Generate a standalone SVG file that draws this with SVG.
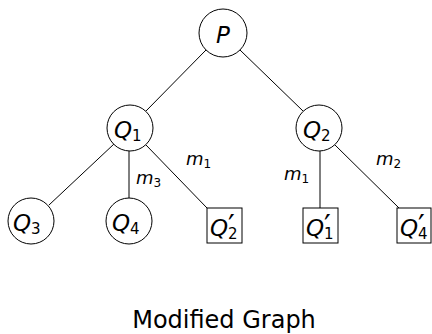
<svg xmlns="http://www.w3.org/2000/svg" width="432" height="334" viewBox="0 0 432 334">
<style>
.n{fill:#fff;stroke:#000;stroke-width:1}
.e{stroke:#000;stroke-width:1;fill:none}
.q{font-family:"DejaVu Sans",sans-serif;font-style:italic;font-size:23px;fill:#000}
.s{font-style:normal;font-size:15px}
.p{font-style:normal;font-size:30px}
.m{font-family:"DejaVu Sans",sans-serif;font-style:italic;font-size:18px;fill:#000}
.ms{font-style:normal;font-size:12px}
.t{font-family:"DejaVu Sans",sans-serif;font-size:24px;fill:#000}
</style>
<g id="edges">
<line class="e" x1="206" y1="50" x2="146" y2="111"/>
<line class="e" x1="240" y1="50" x2="303" y2="111"/>
<line class="e" x1="114" y1="144" x2="49" y2="205"/>
<line class="e" x1="129" y1="151" x2="129" y2="198"/>
<line class="e" x1="146" y1="145" x2="207" y2="208"/>
<line class="e" x1="320" y1="151" x2="320" y2="208"/>
<line class="e" x1="335" y1="145" x2="399" y2="208"/>
</g>
<g id="P"><circle class="n" cx="223" cy="33" r="24"/><text class="q" x="216" y="43">P</text></g>
<g id="Q1"><circle class="n" cx="130" cy="128" r="23"/><text class="q" x="114" y="138">Q<tspan class="s" dy="3">1</tspan></text></g>
<g id="Q2"><circle class="n" cx="319" cy="128" r="23"/><text class="q" x="303" y="138">Q<tspan class="s" dy="3">2</tspan></text></g>
<g id="Q3"><circle class="n" cx="31" cy="221" r="23"/><text class="q" x="13" y="231">Q<tspan class="s" dy="3">3</tspan></text></g>
<g id="Q4"><circle class="n" cx="129" cy="221" r="23"/><text class="q" x="112" y="231">Q<tspan class="s" dy="3">4</tspan></text></g>
<g id="Q2p"><rect class="n" x="207" y="208" width="35" height="35"/><text class="q" x="210" y="236">Q<tspan class="p" x="228" y="236">′</tspan><tspan class="s" x="228" y="239">2</tspan></text></g>
<g id="Q1p"><rect class="n" x="303" y="208" width="35" height="35"/><text class="q" x="306" y="236">Q<tspan class="p" x="324" y="236">′</tspan><tspan class="s" x="324" y="239">1</tspan></text></g>
<g id="Q4p"><rect class="n" x="397" y="208" width="34" height="35"/><text class="q" x="400" y="236">Q<tspan class="p" x="418" y="236">′</tspan><tspan class="s" x="418" y="239">4</tspan></text></g>
<g id="labels">
<text class="m" x="186" y="165">m<tspan class="ms" dy="3">1</tspan></text>
<text class="m" x="136" y="184">m<tspan class="ms" dy="3">3</tspan></text>
<text class="m" x="284" y="180">m<tspan class="ms" dy="3">1</tspan></text>
<text class="m" x="376" y="165">m<tspan class="ms" dy="3">2</tspan></text>
</g>
<text class="t" x="224" y="328" text-anchor="middle">Modified Graph</text>
</svg>
